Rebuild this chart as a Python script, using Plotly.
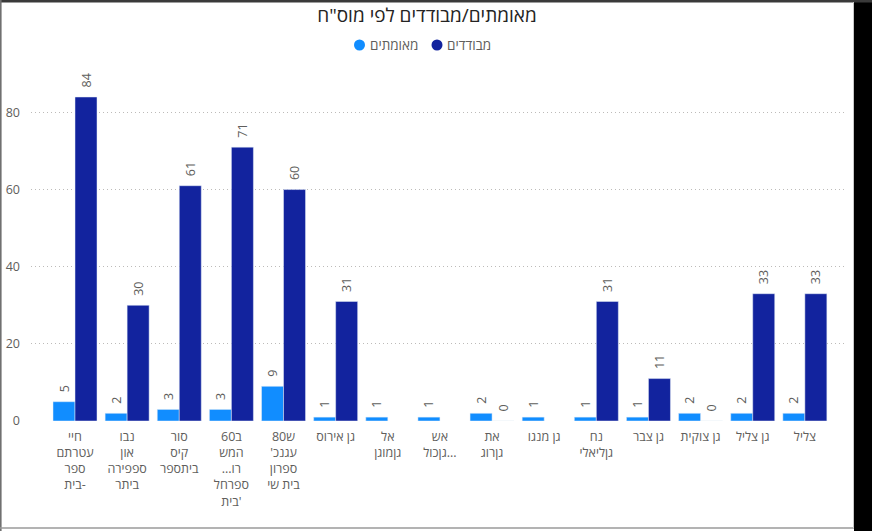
"""confirmed / isolated per institution bar chart"""

import plotly.graph_objects as go

categories = [
    "חיי<br>עטרתם<br>ספר<br>בית-",
    "נבו<br>און<br>ספפירה<br>ביתר",
    "סור<br>קיס<br>ביתספר",
    "60ב<br>המש<br>...רו<br>ספרחל<br>בית'",
    "ש80<br>'עגנכ<br>ספרון<br>בית שי",
    "גן אירוס",
    "אל<br>גןמוגן",
    "אש<br>גןכול...",
    "את<br>גןרוג",
    "גן מנגו",
    "נח<br>גןליאלי",
    "גן צבר",
    "גן צוקית",
    "גן צליל",
    "צליל",
]
confirmed = [5, 2, 3, 3, 9, 1, 1, 1, 2, 1, 1, 1, 2, 2, 2]
isolated = [84, 30, 61, 71, 60, 31, None, None, 0, None, 31, 11, 0, 33, 33]
series_names = ["מאומתים", "מבודדים"]

light_blue = '#118DFF'
dark_blue = '#12239E'
grey_text = '#605E5C'
font_family = "Open Sans, DejaVu Sans, sans-serif"

W, H = 872, 531
plot_l, plot_r = 31, 845
top_m, bot_m = 70, 110

fig = go.Figure()

for name, vals, color in zip(series_names, [confirmed, isolated], [light_blue, dark_blue]):
    fig.add_trace(
        go.Bar(
            x=categories,
            y=vals,
            name=name,
            marker=dict(color=color),
            # leading spaces lift the rotated label a little off the bar
            text=[("" if v is None else "\u00a0\u00a0" + str(v)) for v in vals],
            textposition='outside',
            textangle=-90,
            textfont=dict(size=12.5, color=grey_text, family=font_family),
            constraintext='none',
            cliponaxis=False,
            showlegend=False,
            hoverinfo="none",
        )
    )

fig.update_layout(
    width=W,
    height=H,
    paper_bgcolor='white',
    plot_bgcolor='white',
    barmode='group',
    bargap=0.156,
    bargroupgap=0,
    showlegend=False,
    font=dict(family=font_family, color=grey_text, size=12),
    margin=dict(l=plot_l, r=W - plot_r, t=top_m, b=bot_m, pad=0),
    title=dict(
        text='מאומתים/מבודדים לפי מוס"ח',
        xref='container', x=427 / W, xanchor='center',
        yref='container', y=1 - 15 / H, yanchor='middle',
        font=dict(size=19, color='#252423', family=font_family),
    ),
)

fig.update_xaxes(
    type='category',
    range=[-0.844, 14.77],
    showgrid=False,
    showline=False,
    ticks='',
    tickangle=0,
    automargin=False,
    ticklabelstandoff=6,
    tickfont=dict(size=12.5, color=grey_text),
)

fig.update_yaxes(
    range=[0, 91],
    tickvals=[0, 20, 40, 60, 80],
    showgrid=True,
    gridcolor='#BDBBB9',
    griddash='1px,3px',
    gridwidth=1,
    zeroline=False,
    showline=False,
    ticks='',
    automargin=False,
    ticklabelstandoff=10,
    tickfont=dict(size=12.5, color=grey_text),
)


def px_x(p):
    return (p - plot_l) / (plot_r - plot_l)


def px_y(p):
    return (H - bot_m - p) / (H - top_m - bot_m)


# legend drawn by hand, compact like the original
legend_y = 45
for name, color, cx in zip(series_names, [light_blue, dark_blue], [359.5, 437]):
    fig.add_shape(type='circle', xref='paper', yref='paper',
                  x0=px_x(cx - 5.5), x1=px_x(cx + 5.5),
                  y0=px_y(legend_y + 5.5), y1=px_y(legend_y - 5.5),
                  fillcolor=color, line=dict(width=0))
    fig.add_annotation(xref='paper', yref='paper',
                       x=px_x(cx + 8), y=px_y(legend_y),
                       xanchor='left', yanchor='middle',
                       text=name, showarrow=False,
                       font=dict(size=13.5, color=grey_text, family=font_family))

# frame around the screenshot
fig.add_shape(type='rect', xref='paper', yref='paper',
              x0=px_x(854), x1=px_x(873), y0=px_y(H + 2), y1=px_y(-2),
              fillcolor='black', line=dict(width=0), layer='above')
fig.add_shape(type='rect', xref='paper', yref='paper',
              x0=px_x(-2), x1=px_x(873), y0=px_y(2.5), y1=px_y(-2),
              fillcolor='#3a3a3a', line=dict(width=0), layer='above')
fig.add_shape(type='line', xref='paper', yref='paper',
              x0=px_x(0.8), x1=px_x(0.8), y0=px_y(H), y1=px_y(0),
              line=dict(color='#707070', width=1.6), layer='above')
fig.add_shape(type='line', xref='paper', yref='paper',
              x0=px_x(0), x1=px_x(854), y0=px_y(528), y1=px_y(528),
              line=dict(color='#9a9a9a', width=1.5), layer='above')
fig.add_shape(type='line', xref='paper', yref='paper',
              x0=px_x(853.5), x1=px_x(853.5), y0=px_y(528), y1=px_y(2),
              line=dict(color='#c8c8c8', width=1), layer='above')

fig.write_html("out.html", config={'displayModeBar': False},
               post_script="document.body.style.margin='0';")
